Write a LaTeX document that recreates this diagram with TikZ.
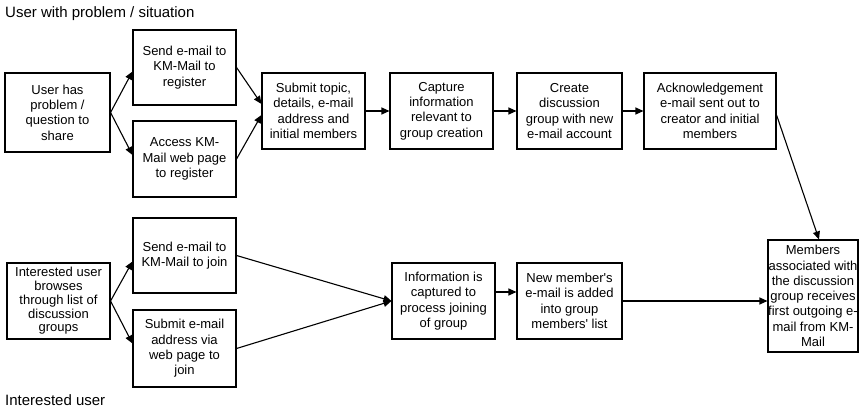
\documentclass[tikz,border=0pt]{standalone}
\usepackage{fontspec}
\setmainfont{Liberation Sans}[Ligatures=TeXOff]
\usetikzlibrary{arrows.meta,calc}
\tikzset{
  box/.style={draw, line width=1.1pt, inner sep=0pt, align=center,
    font=\fontsize{13}{15.3}\selectfont},
  conn/.style={line width=1.1pt, -{Triangle[length=8pt,width=7pt]}},
  lbl/.style={anchor=base west, inner sep=0pt, font=\fontsize{15}{18}\selectfont}
}
\begin{document}
\begin{tikzpicture}[x=1pt,y=-1pt]
\useasboundingbox (0,0) rectangle (865,409);
\node[lbl] (t1) at (5,18) {User with problem / situation};
\node[lbl] (t2) at (5,405) {Interested user};
% top row
\node[box, minimum width=105, minimum height=79] (A) at (57.5,112.5) {User has\\problem /\\question to\\share};
\node[box, minimum width=103, minimum height=75] (B) at (184.5,67.5) {Send e-mail to\\KM-Mail to\\register};
\node[box, minimum width=103, minimum height=76] (C) at (184.5,159) {Access KM-\\Mail web page\\to register};
\node[box, minimum width=103, minimum height=76] (D) at (313.5,111) {Submit topic,\\details, e-mail\\address and\\initial members};
\node[box, minimum width=103, minimum height=76] (E) at (441.5,111) {Capture\\information\\relevant to\\group creation};
\node[box, minimum width=105, minimum height=76] (F) at (569.5,111) {Create\\discussion\\group with new\\e-mail account};
\node[box, minimum width=132, minimum height=76] (G) at (710,111) {Acknowledgement\\e-mail sent out to\\creator and initial\\members};
% bottom row
\node[box, minimum width=103, minimum height=76, font=\fontsize{13}{13.8}\selectfont] (H) at (58.5,301) {Interested user\\browses\\through list of\\discussion\\groups};
\node[box, minimum width=103, minimum height=75] (I) at (184.5,255.5) {Send e-mail to\\KM-Mail to join};
\node[box, minimum width=103, minimum height=77] (J) at (184.5,348.5) {Submit e-mail\\address via\\web page to\\join};
\node[box, minimum width=103, minimum height=76] (K) at (443.5,301) {Information is\\captured to\\process joining\\of group};
\node[box, minimum width=105, minimum height=76] (L) at (569.5,301) {New member's\\e-mail is added\\into group\\members' list};
\node[box, minimum width=90, minimum height=112] (M) at (813,296) {Members\\associated with\\the discussion\\group receives\\first outgoing e-\\mail from KM-\\Mail};
% connectors top
\draw[conn] (A.east) -- ([yshift=-4pt]B.west);
\draw[conn] (A.east) -- ([yshift=4pt]C.west);
\draw[conn] (B.east) -- ([yshift=7pt]D.west);
\draw[conn] (C.east) -- ([yshift=-4pt]D.west);
\draw[conn] (D.east) -- (E.west);
\draw[conn] (E.east) -- (F.west);
\draw[conn] (F.east) -- (G.west);
\draw[conn] ([yshift=-4pt]G.east) -- ([xshift=6pt]M.north);
% connectors bottom
\draw[conn] (H.east) -- ([yshift=-6pt]I.west);
\draw[conn] (H.east) -- ([yshift=5pt]J.west);
\draw[conn] (I.east) -- (K.west);
\draw[conn] (J.east) -- (K.west);
\draw[conn] ([yshift=9pt]K.east) -- ([yshift=9pt]L.west);
\draw[conn] (L.east) -- (M.west |- L.east);
\end{tikzpicture}
\end{document}
